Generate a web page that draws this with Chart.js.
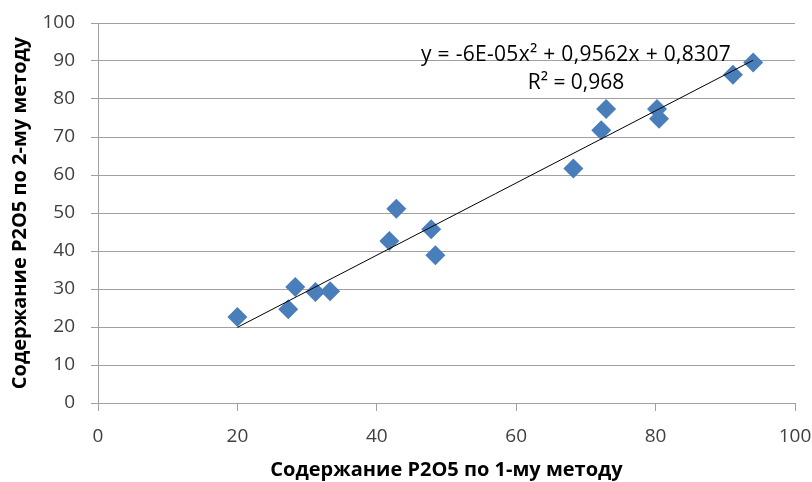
<!DOCTYPE html>
<html>
<head>
<meta charset="utf-8">
<script src="https://cdn.jsdelivr.net/npm/chart.js@4.4.1/dist/chart.umd.min.js"></script>
<style>
    html, body { margin: 0; padding: 0; background: #fff; }
    #wrap { width: 812px; height: 482px; }
</style>
</head>
<body>
<div id="wrap"><canvas id="myChart" width="812" height="482"></canvas></div>
<script>
// values
const method1 = [20.0, 27.3, 28.3, 31.2, 33.3, 41.8, 42.8, 47.8, 48.4, 68.2, 72.2, 72.9, 80.2, 80.5, 91.1, 94.0];
const method2 = [22.6, 24.7, 30.5, 29.2, 29.4, 42.6, 51.1, 45.7, 38.9, 61.7, 71.8, 77.4, 77.4, 74.8, 86.4, 89.6];
// trend line ends (polynomial, nearly straight)
const trendX = [20, 94];
const trendY = [19.9, 90.2];
const equationLines = ['y = -6E-05x² + 0,9562x + 0,8307', 'R² = 0,968'];
const xTitle = 'Содержание P2O5 по 1-му методу';
const yTitle = 'Содержание P2O5 по 2-му методу';

const FONT = "'Open Sans', 'Liberation Sans', sans-serif";

const equationLabel = {
    id: 'equationLabel',
    afterDatasetsDraw(chart) {
        const ctx = chart.ctx;
        ctx.save();
        ctx.font = '21px ' + FONT;
        ctx.fillStyle = '#000';
        ctx.textAlign = 'center';
        ctx.textBaseline = 'middle';
        ctx.letterSpacing = '0.3px';
        ctx.fillText(equationLines[0], 576, 55);
        ctx.letterSpacing = '0px';
        ctx.fillText(equationLines[1], 576, 83);
        ctx.restore();
    }
};

function createChart() {
    const ctx = document.getElementById('myChart').getContext('2d');
    return new Chart(ctx, {
        type: 'scatter',
        data: {
            datasets: [
                {
                    type: 'line',
                    label: 'trend',
                    data: trendX.map((x, i) => ({ x: x, y: trendY[i] })),
                    borderColor: '#000',
                    borderWidth: 1,
                    pointRadius: 0,
                    fill: false
                },
                {
                    label: 'data',
                    data: method1.map((x, i) => ({ x: x, y: method2[i] })),
                    pointStyle: 'rectRot',
                    pointRadius: 10,
                    pointBackgroundColor: '#4a7ebb',
                    pointBorderColor: '#4a7ebb',
                    pointBorderWidth: 0
                }
            ]
        },
        options: {
            responsive: false,
            animation: false,
            layout: { padding: { left: 0, right: 17, top: 23, bottom: 0 } },
            plugins: {
                legend: { display: false },
                tooltip: { enabled: false }
            },
            scales: {
                x: {
                    type: 'linear',
                    min: 0,
                    max: 100,
                    ticks: { stepSize: 20, color: '#404040', padding: 14, font: { family: FONT, size: 19 } },
                    grid: { drawOnChartArea: false, tickLength: 8, color: '#a0a0a0' },
                    border: { color: '#a0a0a0' },
                    title: { display: true, text: xTitle, color: '#000', padding: { top: 0, bottom: 0 }, font: { family: FONT, size: 20, weight: 'bold' } },
                    afterFit: (scale) => {
                        scale.height = 79;
                        scale.paddingLeft = 0;
                        scale.paddingRight = 0;
                    }
                },
                y: {
                    type: 'linear',
                    min: 0,
                    max: 100,
                    ticks: { stepSize: 10, color: '#404040', padding: 16, font: { family: FONT, size: 19 } },
                    grid: { tickLength: 7, color: '#a0a0a0' },
                    border: { color: '#a0a0a0' },
                    title: { display: true, text: yTitle, color: '#000', padding: { top: 8, bottom: 0 }, font: { family: FONT, size: 20, weight: 'bold' } },
                    afterFit: (scale) => {
                        scale.width = 98;
                        scale.paddingTop = 0;
                        scale.paddingBottom = 0;
                    }
                }
            }
        },
        plugins: [equationLabel]
    });
}

var myChart = createChart();
</script>
</body>
</html>
